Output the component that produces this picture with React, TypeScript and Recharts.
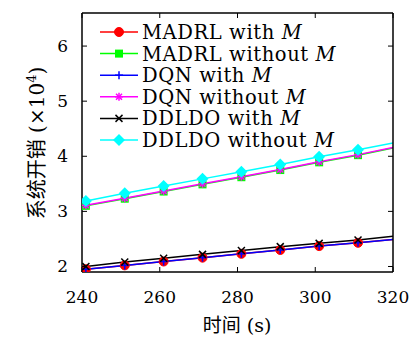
import { LineChart, Line, XAxis, YAxis } from 'recharts'

const times = [241, 251, 261, 271, 281, 291, 301, 311, 320]
const madrlWith = [1.95, 2.02, 2.09, 2.16, 2.23, 2.3, 2.37, 2.43, 2.49]
const madrlWithout = [3.1, 3.23, 3.36, 3.49, 3.62, 3.75, 3.89, 4.02, 4.15]
const dqnWith = [1.95, 2.02, 2.09, 2.16, 2.23, 2.3, 2.37, 2.43, 2.49]
const dqnWithout = [3.11, 3.24, 3.37, 3.5, 3.63, 3.76, 3.9, 4.03, 4.16]
const ddldoWith = [2.0, 2.08, 2.15, 2.22, 2.29, 2.36, 2.42, 2.48, 2.55]
const ddldoWithout = [3.19, 3.33, 3.46, 3.59, 3.72, 3.85, 3.99, 4.12, 4.24]

const xTicks = [240, 260, 280, 300, 320]
const yTicks = [2, 3, 4, 5, 6]

const FONT = "'DejaVu Serif', serif"
const CJK = "'DejaVu Serif', 'Noto Sans CJK SC', serif"

type Shape = 'circle' | 'square' | 'plus' | 'star' | 'cross' | 'diamond'

const series: { key: string; name: string; tail: string; color: string; shape: Shape; values: number[] }[] = [
  { key: 'madrlWith', name: 'MADRL with ', tail: 'M', color: '#ff0000', shape: 'circle', values: madrlWith },
  { key: 'madrlWithout', name: 'MADRL without ', tail: 'M', color: '#00ff00', shape: 'square', values: madrlWithout },
  { key: 'dqnWith', name: 'DQN with ', tail: 'M', color: '#0000ff', shape: 'plus', values: dqnWith },
  { key: 'dqnWithout', name: 'DQN without ', tail: 'M', color: '#ff00ff', shape: 'star', values: dqnWithout },
  { key: 'ddldoWith', name: 'DDLDO with ', tail: 'M', color: '#000000', shape: 'cross', values: ddldoWith },
  { key: 'ddldoWithout', name: 'DDLDO without ', tail: 'M', color: '#00ffff', shape: 'diamond', values: ddldoWithout },
]

const data = times.map((t, i) => {
  const row: Record<string, number> = { t }
  series.forEach((s) => { row[s.key] = s.values[i] })
  return row
})

function Marker({ shape, color, cx, cy }: { shape: Shape; color: string; cx: number; cy: number }) {
  switch (shape) {
    case 'circle':
      return <circle cx={cx} cy={cy} r={4.5} fill={color} stroke={color} />
    case 'square':
      return <rect x={cx - 4} y={cy - 4} width={8} height={8} fill={color} />
    case 'plus':
      return (
        <g stroke={color} strokeWidth={1.5}>
          <line x1={cx - 4} y1={cy} x2={cx + 4} y2={cy} />
          <line x1={cx} y1={cy - 4} x2={cx} y2={cy + 4} />
        </g>
      )
    case 'star':
      return (
        <g stroke={color} strokeWidth={1.5}>
          <line x1={cx - 4} y1={cy} x2={cx + 4} y2={cy} />
          <line x1={cx} y1={cy - 4} x2={cx} y2={cy + 4} />
          <line x1={cx - 3} y1={cy - 3} x2={cx + 3} y2={cy + 3} />
          <line x1={cx - 3} y1={cy + 3} x2={cx + 3} y2={cy - 3} />
        </g>
      )
    case 'cross':
      return (
        <g stroke={color} strokeWidth={1.5}>
          <line x1={cx - 3.5} y1={cy - 3.5} x2={cx + 3.5} y2={cy + 3.5} />
          <line x1={cx - 3.5} y1={cy + 3.5} x2={cx + 3.5} y2={cy - 3.5} />
        </g>
      )
    default:
      return <polygon points={`${cx},${cy - 6} ${cx + 6},${cy} ${cx},${cy + 6} ${cx - 6},${cy}`} fill={color} />
  }
}

// markers every 10 s; the final point at 320 only carries the line to the edge
const makeDot = (shape: Shape, color: string) => (props: any) => {
  const { cx, cy, payload, index } = props
  if (payload.t === 320) return <g key={index} />
  return <g key={index}><Marker shape={shape} color={color} cx={cx} cy={cy} /></g>
}

const BottomTick = (props: any) => {
  const { x, y, payload } = props
  return (
    <g>
      <line x1={x} y1={y} x2={x} y2={y - 5} stroke="#000" strokeWidth={1} />
      <text x={x} y={y + 31} textAnchor="middle" fontFamily={FONT} fontSize={17} fill="#000">{payload.value}</text>
    </g>
  )
}

const TopTick = (props: any) => {
  const { x, y } = props
  return <line x1={x} y1={y} x2={x} y2={y + 5} stroke="#000" strokeWidth={1} />
}

const LeftTick = (props: any) => {
  const { x, y, payload } = props
  return (
    <g>
      <line x1={x} y1={y} x2={x + 5} y2={y} stroke="#000" strokeWidth={1} />
      <text x={x - 14} y={y + 6} textAnchor="end" fontFamily={FONT} fontSize={17} fill="#000">{payload.value}</text>
    </g>
  )
}

const RightTick = (props: any) => {
  const { x, y } = props
  return <line x1={x} y1={y} x2={x - 5} y2={y} stroke="#000" strokeWidth={1} />
}

function LegendBox() {
  const rowH = 21.6
  return (
    <svg width={300} height={150} style={{ position: 'absolute', left: 95, top: 12 }}>
      {series.map((s, i) => {
        const cy = 20 + i * rowH
        return (
          <g key={s.key}>
            <line x1={5} y1={cy} x2={43} y2={cy} stroke={s.color} strokeWidth={1.5} />
            <Marker shape={s.shape} color={s.color} cx={24} cy={cy} />
            <text x={47} y={cy + 7} fontFamily={FONT} fontSize={19.5} letterSpacing={0.6} fill="#000">
              {s.name}
              <tspan fontStyle="italic">{s.tail}</tspan>
            </text>
          </g>
        )
      })}
    </svg>
  )
}

export default function App() {
  const axisLine = { stroke: '#000', strokeWidth: 1.5 }
  return (
    <div style={{ position: 'absolute', left: 0, top: 0, width: 413, height: 340, background: '#fff' }}>
      <LineChart width={413} height={340} data={data} margin={{ top: 12, right: 19, bottom: 0, left: 0 }}>
        <XAxis xAxisId="b" dataKey="t" type="number" domain={[240, 320]} ticks={xTicks} allowDataOverflow
          axisLine={axisLine} tickLine={false} tickSize={0} tickMargin={0} tick={BottomTick} height={68}
          label={{
            content: () => (
              <text x={237} y={332} textAnchor="middle" fontFamily={CJK} fontSize={19} fill="#000">时间 (s)</text>
            ),
          }} />
        <XAxis xAxisId="t" orientation="top" dataKey="t" type="number" domain={[240, 320]} ticks={xTicks} allowDataOverflow
          axisLine={axisLine} tickLine={false} tickSize={0} tickMargin={0} tick={TopTick} height={1} />
        <YAxis yAxisId="l" type="number" domain={[1.9, 6.6]} ticks={yTicks} allowDataOverflow
          axisLine={axisLine} tickLine={false} tickSize={0} tickMargin={0} tick={LeftTick} width={82}
          label={{
            content: () => (
              <text x={44} y={143} transform="rotate(-90 44 143)" textAnchor="middle" fontFamily={CJK} fontSize={20} fill="#000">
                系统开销 (×10<tspan dy={-8} fontSize={13}>4</tspan><tspan dy={8}>)</tspan>
              </text>
            ),
          }} />
        <YAxis yAxisId="r" orientation="right" type="number" domain={[1.9, 6.6]} ticks={yTicks} allowDataOverflow
          axisLine={axisLine} tickLine={false} tickSize={0} tickMargin={0} tick={RightTick} width={1} />
        {series.map((s) => (
          <Line key={s.key} xAxisId="b" yAxisId="l" dataKey={s.key} stroke={s.color} strokeWidth={1.5}
            dot={makeDot(s.shape, s.color)} activeDot={false} isAnimationActive={false} />
        ))}
      </LineChart>
      <LegendBox />
    </div>
  )
}
